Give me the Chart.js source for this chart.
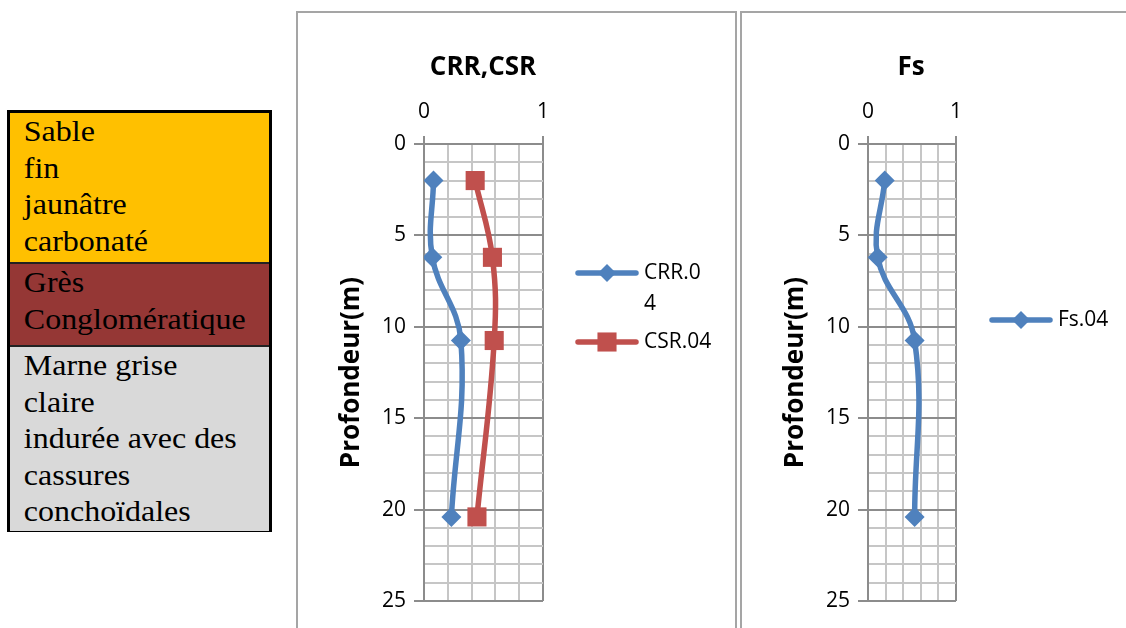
<!DOCTYPE html>
<html>
<head>
<meta charset="utf-8">
<script src="https://cdn.jsdelivr.net/npm/chart.js@4.4.0/dist/chart.umd.min.js"></script>
<style>
  body { margin: 0; background: #fff; width: 1126px; height: 628px; overflow: hidden; position: relative; }
  .panel { position: absolute; top: 11px; border: 2px solid #a5a5a5; border-bottom: none; }
  #p1 { left: 296px; width: 437px; height: 620px; }
  #p2 { left: 740px; width: 400px; height: 620px; }
  .panel canvas { position: absolute; left: 0; top: 0; }
  #strat { position: absolute; left: 7px; top: 110px; width: 259px; height: 416px; border: 3px solid #000;
           font-family: "Liberation Serif", "Times New Roman", serif; font-size: 30px; line-height: 36.5px; color: #000; }
  .layer { position: absolute; left: 0; width: 259px; overflow: hidden; }
  .layer div { transform: scaleX(1.065); transform-origin: left top; padding-left: 13px; white-space: nowrap; }
  #l1 { top: 0; height: 149px; background: #ffc000; }
  #l2 { top: 149px; height: 81px; background: #953735; border-top: 2px solid #222; }
  #l3 { top: 232px; height: 184px; background: #d9d9d9; border-top: 2px solid #222; }
</style>
</head>
<body>
<div id="strat">
  <div class="layer" id="l1"><div>Sable<br>fin<br>jaunâtre<br>carbonaté</div></div>
  <div class="layer" id="l2"><div>Grès<br>Conglomératique</div></div>
  <div class="layer" id="l3"><div>Marne grise<br>claire<br>indurée avec des<br>cassures<br>conchoïdales</div></div>
</div>
<div class="panel" id="p1"><canvas id="c1" width="435" height="615"></canvas></div>
<div class="panel" id="p2"><canvas id="c2" width="398" height="615"></canvas></div>
<script>
// profondeur des essais (m)
const depths = [2.0, 6.2, 10.75, 20.4];
const crr = [0.08, 0.07, 0.31, 0.23];
const csr = [0.43, 0.575, 0.59, 0.445];
const fs = [0.19, 0.11, 0.53, 0.53];
const depthTicks = [0, 5, 10, 15, 20, 25];
const ratioTicks = [0, 1];

const blue = '#4f81bd';
const red = '#c0504d';
const minorGrid = '#c6c6c6';
const majorGrid = '#8c8c8c';
const fontFam = '"Open Sans", sans-serif';

function pts(vals) {
  return vals.map((v, i) => ({ x: v, y: depths[i] }));
}

function marker(ctx, style, x, y, r, color) {
  ctx.fillStyle = color;
  ctx.beginPath();
  if (style === 'rect') {
    const s = r * Math.SQRT1_2;
    ctx.rect(x - s, y - s, 2 * s, 2 * s);
  } else {
    ctx.moveTo(x, y - r); ctx.lineTo(x + r, y); ctx.lineTo(x, y + r); ctx.lineTo(x - r, y);
    ctx.closePath();
  }
  ctx.fill();
}

// titre + légende dessinés à la main (légende Excel sur deux lignes)
function decor(title, titleX, legend) {
  return {
    id: 'decor',
    afterDraw(chart) {
      const ctx = chart.ctx;
      ctx.save();
      ctx.fillStyle = '#000';
      ctx.font = 'bold 26px ' + fontFam;
      ctx.textAlign = 'center';
      ctx.textBaseline = 'middle';
      ctx.fillText(title, titleX, 55);
      legend.forEach(it => {
        ctx.strokeStyle = it.color;
        ctx.lineWidth = 5.5;
        ctx.lineCap = 'round';
        ctx.beginPath();
        ctx.moveTo(it.x, it.y); ctx.lineTo(it.x + 58, it.y);
        ctx.stroke();
        marker(ctx, it.style, it.x + 29, it.y, it.style === 'rect' ? 13.5 : 9, it.color);
        ctx.fillStyle = '#000';
        ctx.font = '21px ' + fontFam;
        ctx.textAlign = 'left';
        it.lines.forEach((t, k) => ctx.fillText(t, it.x + 66, it.y + k * 31));
      });
      ctx.restore();
    }
  };
}

function isMajor(v, list) {
  return list.some(t => Math.abs(t - v) < 1e-6);
}

function makeScales() {
  return {
    x: {
      type: 'linear', position: 'top', min: 0, max: 1,
      afterFit(s) { s.height = 131; },
      ticks: {
        stepSize: 0.2, autoSkip: false, maxRotation: 0, color: '#000', padding: 11,
        font: { family: fontFam, size: 21 },
        callback: v => isMajor(v, ratioTicks) ? String(Math.round(v)) : ''
      },
      grid: {
        lineWidth: 2, tickLength: 8,
        color: c => isMajor(c.tick.value, ratioTicks) ? majorGrid : minorGrid,
        tickColor: c => isMajor(c.tick.value, ratioTicks) ? majorGrid : 'rgba(0,0,0,0)'
      },
      border: { display: true, color: majorGrid, width: 2 }
    },
    y: {
      type: 'linear', reverse: true, min: 0, max: 25,
      afterFit(s) { s.width = 126; },
      title: {
        display: true, text: 'Profondeur(m)', color: '#000', padding: { top: 38 },
        font: { family: fontFam, size: 26, weight: 'bold' }
      },
      ticks: {
        stepSize: 1, autoSkip: false, color: '#000', padding: 8,
        font: { family: fontFam, size: 21 },
        callback: v => isMajor(v, depthTicks) ? String(v) : ''
      },
      grid: {
        lineWidth: 2, tickLength: 10,
        color: c => isMajor(c.tick.value, depthTicks) ? majorGrid : minorGrid,
        tickColor: c => isMajor(c.tick.value, depthTicks) ? majorGrid : 'rgba(0,0,0,0)'
      },
      border: { display: true, color: majorGrid, width: 2 }
    }
  };
}

function series(label, vals, color, style, radius) {
  return {
    label: label, data: pts(vals), showLine: true, tension: 0.4,
    borderColor: color, borderWidth: 5.5, backgroundColor: color,
    pointStyle: style, pointRadius: radius, pointBorderWidth: 0, pointBackgroundColor: color
  };
}

const baseOpts = (rightPad) => ({
  responsive: false, animation: false,
  layout: { padding: { top: 0, left: 0, right: rightPad, bottom: 27 } },
  plugins: { legend: { display: false }, title: { display: false }, tooltip: { enabled: false } },
  scales: makeScales()
});

new Chart(document.getElementById('c1'), {
  type: 'scatter',
  data: { datasets: [
    series('CRR.04', crr, blue, 'rectRot', 10),
    series('CSR.04', csr, red, 'rect', 13.5)
  ] },
  options: baseOpts(190),
  plugins: [decor('CRR,CSR', 185, [
    { x: 280, y: 260, color: blue, style: 'rectRot', lines: ['CRR.0', '4'] },
    { x: 280, y: 329, color: red, style: 'rect', lines: ['CSR.04'] }
  ])]
});

new Chart(document.getElementById('c2'), {
  type: 'scatter',
  data: { datasets: [ series('Fs.04', fs, blue, 'rectRot', 10) ] },
  options: baseOpts(184),
  plugins: [decor('Fs', 169, [
    { x: 250, y: 307, color: blue, style: 'rectRot', lines: ['Fs.04'] }
  ])]
});
</script>
</body>
</html>
